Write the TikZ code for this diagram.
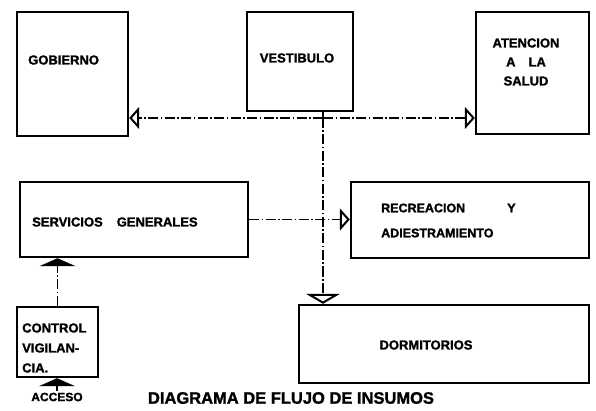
\documentclass[tikz,border=0pt]{standalone}
\usepackage{fontspec}
\setmainfont{Liberation Sans}[BoldFeatures={FakeBold=1.5}]
\usepackage{tikz}
\usetikzlibrary{arrows.meta,backgrounds,positioning}
\pgfdeclarelayer{edgelayer}
\pgfdeclarelayer{nodelayer}
\pgfsetlayers{nodelayer,main,edgelayer}
\tikzset{
	box/.style={draw, line width=2.4pt, inner sep=0pt},
	txt/.style={font=\bfseries\fontsize{13}{19}\selectfont, inner sep=0pt},
	flow/.style={line width=1.6pt, dash pattern=on 10pt off 2.5pt on 1.5pt off 2.5pt},
	openhead/.style={-{Triangle[open, length=10pt, width=#1, line width=2pt]}},
	openhead/.default=22pt,
	solidhead/.style={-{Triangle[length=8pt, width=36pt]}}
}

\begin{document}
\begin{tikzpicture}[x=1pt, y=1pt]
	\useasboundingbox (0, 0) rectangle (596, -411);
	\begin{pgfonlayer}{nodelayer}
		\node [box, minimum width=111pt, minimum height=124pt] (0) at (72.5, -74) {};
		\node [box, minimum width=106pt, minimum height=99pt] (1) at (300, -61.5) {};
		\node [box, minimum width=113pt, minimum height=122pt] (2) at (532.5, -73) {};
		\node [box, minimum width=228pt, minimum height=75pt] (3) at (134, -219.5) {};
		\node [box, minimum width=238pt, minimum height=76pt] (4) at (470, -220) {};
		\node [box, minimum width=290pt, minimum height=78pt] (5) at (444, -344) {};
		\node [box, minimum width=81pt, minimum height=70pt] (6) at (57.5, -342) {};
		\coordinate (8) at (323, -118);
		\node [txt, anchor=west] (10) at (28, -60) {GOBIERNO};
		\node [txt] (11) at (297, -58) {VESTIBULO};
		\node [txt, align=center] (12) at (526, -62) {ATENCION\\A\quad LA\\SALUD};
		\node [txt, anchor=west] (13) at (32, -222) {SERVICIOS\hspace{14pt}GENERALES};
		\node [txt, anchor=west, align=left, font=\bfseries\fontsize{12.5}{25}\selectfont] (14) at (381, -220.5) {RECREACION\hspace{42pt}Y\\ADIESTRAMIENTO};
		\node [txt] (15) at (426, -345) {DORMITORIOS};
		\node [txt, anchor=west, align=left, font=\bfseries\fontsize{13}{20}\selectfont] (16) at (22, -348) {CONTROL\\VIGILAN-\\CIA.};
		\node [txt, font=\bfseries\fontsize{12}{14}\selectfont, inner sep=1.5pt] (9) at (57, -397) {ACCESO};
		\node [txt, font=\bfseries\fontsize{16.5}{20}\selectfont] (17) at (291, -398) {DIAGRAMA DE FLUJO DE INSUMOS};
	\end{pgfonlayer}
	\begin{pgfonlayer}{edgelayer}
		\draw [flow] (1.south -| 8) to (8);
		\draw [flow, openhead] (8) to (8 -| 0.east);
		\draw [flow, openhead] (8) to (8 -| 2.west);
		\draw [flow, openhead=34pt] (8) to (8 |- 5.north);
		\draw [flow, openhead] (3.east) to (3.east -| 4.west);
		\draw [flow, solidhead] (6.north) to (6.north |- 3.south);
		\draw [line width=1.6pt, solidhead] (9.north) to (9.north |- 6.south);
	\end{pgfonlayer}
\end{tikzpicture}
\end{document}
